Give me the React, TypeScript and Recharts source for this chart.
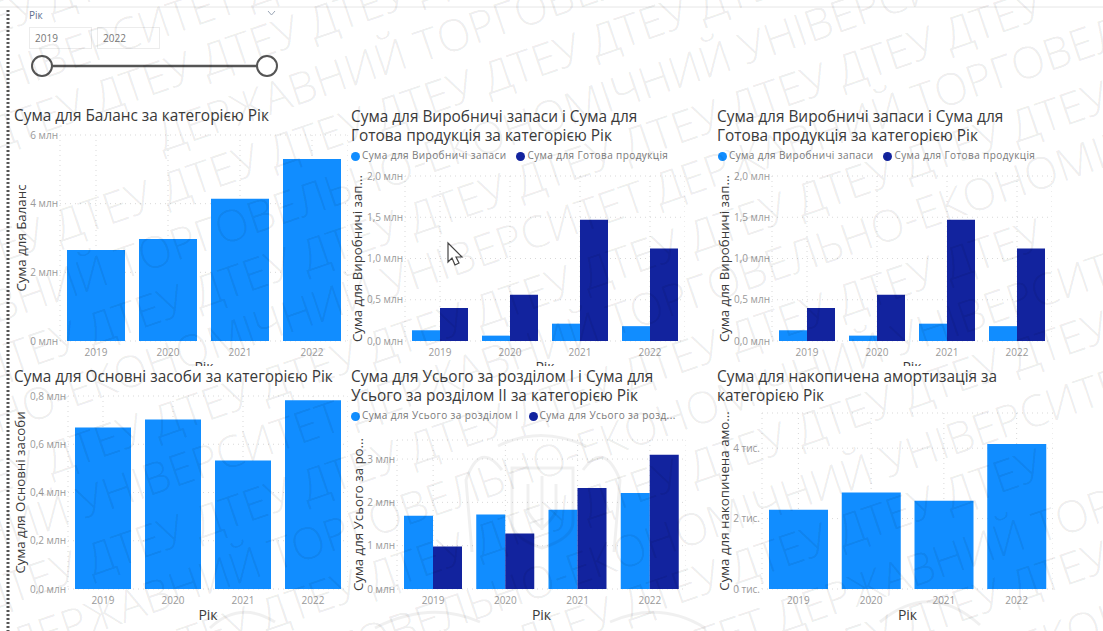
import React from 'react';
import { BarChart, Bar, XAxis, YAxis, CartesianGrid, Legend } from 'recharts';

const BLUE = '#118DFF';
const NAVY = '#12239E';
const TICK = '#9a9a9a';
const INK = '#3a3a3a';
const FONT = '"Open Sans", "Noto Sans", sans-serif';

const years = ['2019', '2020', '2021', '2022'];

// values in millions unless noted
const balance = [2.65, 2.97, 4.14, 5.3];
const inventories = [0.13, 0.065, 0.21, 0.18];
const finishedGoods = [0.4, 0.56, 1.47, 1.12];
const fixedAssets = [0.669, 0.703, 0.533, 0.782];
const sectionOne = [1.69, 1.72, 1.83, 2.215];
const sectionTwo = [0.98, 1.28, 2.33, 3.1];
const depreciation = [2.25, 2.74, 2.51, 4.12]; // thousands

const balanceTicks = [0, 2, 4, 6];
const stockTicks = [0, 0.5, 1, 1.5, 2];
const assetTicks = [0, 0.2, 0.4, 0.6, 0.8];
const sectionTicks = [0, 1, 2, 3];
const depreciationTicks = [0, 2, 4];

// watermark rows: [height at the left edge, where the text starts]
const UNIVERSITY = 'ДЕРЖАВНИЙ ТОРГОВЕЛЬНО-ЕКОНОМІЧНИЙ УНІВЕРСИТЕТ ';
const ACRONYM = 'ДТЕУ ';
const nameRows = [
  [76, -960],
  [190, 166],
  [304, -150],
  [415, -528],
  [530, -850],
  [648, -1208],
  [766, 0],
  [884, -400],
  [1000, -740],
];
const acronymRows = [
  [15, 100],
  [130, 38],
  [245, 109],
  [360, 30],
  [475, 100],
  [590, 30],
  [705, 100],
  [820, 30],
  [935, 100],
];

const table = (a: number[], b?: number[]) =>
  years.map((year, i) => ({ year, a: a[i], b: b ? b[i] : undefined }));

const oneDecimal = (v: number) => `${v.toFixed(1).replace('.', ',')} млн`;
const whole = (v: number) => `${v} млн`;
const thousands = (v: number) => `${v} тис.`;

type PanelProps = {
  left: number;
  top: number;
  width: number;
  height: number;
  clip: number;
  axisWidth: number;
  marginTop: number;
  titleOffset: number;
  data: any[];
  ticks: number[];
  domainMax: number;
  format: (v: number) => string;
  yTitle: string;
  names?: string[];
};

const Panel = ({ left, top, width, height, clip, axisWidth, marginTop, titleOffset, data, ticks, domainMax, format, yTitle, names }: PanelProps) => (
  <div style={{ position: 'absolute', left, top, width, height: clip, overflow: 'hidden' }}>
    <BarChart
      width={width}
      height={height}
      data={data}
      barGap={0}
      barCategoryGap={7}
      margin={{ top: marginTop, right: 0, bottom: 0, left: 0 }}
    >
      <CartesianGrid stroke="#d9d9d9" strokeDasharray="1 4" />
      {names && (
        <Legend
          verticalAlign="top"
          align="left"
          iconType="circle"
          iconSize={9}
          itemSorter={null}
          wrapperStyle={{ left: 6, top: 0, fontFamily: FONT, fontSize: 10, lineHeight: '14px', letterSpacing: 0.4, whiteSpace: 'nowrap' }}
          formatter={(value: string) => <span style={{ color: '#7a7a7a', marginLeft: -2 }}>{value}</span>}
        />
      )}
      <XAxis
        dataKey="year"
        height={34}
        axisLine={false}
        tickLine={false}
        tickSize={0}
        tickMargin={8}
        tick={{ fontSize: 10, fill: TICK, fontFamily: FONT }}
        label={{ value: 'Рік', position: 'insideBottom', offset: 3, fontSize: 14, fill: INK, fontFamily: FONT }}
      />
      <YAxis
        width={axisWidth}
        domain={[0, domainMax]}
        ticks={ticks}
        interval={0}
        axisLine={false}
        tickLine={false}
        tickSize={0}
        tickMargin={2}
        tickFormatter={format}
        tick={{ fontSize: 10, fill: TICK, fontFamily: FONT }}
        label={{
          value: yTitle,
          angle: -90,
          position: 'insideLeft',
          offset: titleOffset,
          fontSize: 13.3,
          fill: INK,
          fontFamily: FONT,
          style: { textAnchor: 'middle' },
        }}
      />
      <Bar dataKey="a" name={names ? names[0] : 'a'} fill={BLUE} isAnimationActive={false} />
      {names && <Bar dataKey="b" name={names[1]} fill={NAVY} isAnimationActive={false} />}
    </BarChart>
  </div>
);

const Title = ({ x, y, lines }: { x: number; y: number; lines: string[] }) => (
  <div
    style={{
      position: 'absolute',
      left: x,
      top: y,
      fontFamily: FONT,
      fontSize: 15.4,
      lineHeight: '19px',
      color: '#3a3a3a',
      whiteSpace: 'nowrap',
    }}
  >
    {lines.map((line) => (
      <div key={line}>{line}</div>
    ))}
  </div>
);

// year range slicer in the top left corner
const Slicer = () => (
  <>
    <div style={{ position: 'absolute', left: 29, top: 8, fontFamily: FONT, fontSize: 10, color: '#5f6f8f' }}>Рік</div>
    {['2019', '2022'].map((label, i) => (
      <div
        key={label}
        style={{
          position: 'absolute',
          left: 29 + i * 68,
          top: 27,
          width: 63,
          height: 22,
          boxSizing: 'border-box',
          border: '1px solid #ececec',
          padding: '0 0 0 5px',
          fontFamily: FONT,
          fontSize: 10,
          lineHeight: '20px',
          color: '#777',
        }}
      >
        {label}
      </div>
    ))}
    <svg width={1103} height={100} style={{ position: 'absolute', left: 0, top: 0 }}>
      <line x1={0} y1={7} x2={1103} y2={7} stroke="#e6e6e6" />
      <path d="M268 11 L271.5 15 L275 11" fill="none" stroke="#9aa5b5" />
      <line x1={42} y1={66} x2={267} y2={66} stroke="#555" strokeWidth={2.5} />
      <circle cx={42} cy={66} r={10} fill="#fff" stroke="#555" strokeWidth={2} />
      <circle cx={267} cy={66} r={10} fill="#fff" stroke="#555" strokeWidth={2} />
    </svg>
  </>
);

// university watermark and emblem laid over the whole report page
const Watermark = () => (
  <svg width={1103} height={631} style={{ position: 'absolute', left: 0, top: 0, pointerEvents: 'none' }}>
    <line x1={8} y1={10} x2={8} y2={631} stroke="#555" strokeWidth={3} strokeDasharray="2 2" />
    <g fontFamily={FONT} fontSize={44} fontWeight={300} fill="#000" fillOpacity={0.08} dominantBaseline="central">
      {nameRows.map(([offset, start]) => (
        <text key={offset} transform={`translate(0 ${offset}) rotate(-19)`} x={start}>
          {UNIVERSITY.repeat(3)}
        </text>
      ))}
      {acronymRows.map(([offset, start]) => (
        <text key={offset} transform={`translate(0 ${offset}) rotate(-19)`} x={start - 165}>
          {ACRONYM.repeat(11)}
        </text>
      ))}
    </g>
    <g fill="none" stroke="#000" strokeOpacity={0.06} strokeWidth={3}>
      <path d="M512 468 L573 468 L573 522 Q573 538 542 548 Q512 538 512 522 Z" />
      <path d="M528 484 L528 512 Q534 522 542 528 Q550 522 556 512 L556 484 M542 476 L542 530" />
      <path d="M502 470 Q480 440 466 480 L472 552 M583 470 Q604 440 620 480 L614 552" />
      <path d="M498 446 Q540 425 586 446" />
      <path d="M375 628 Q430 600 480 622 M610 622 Q660 600 705 628 M210 628 Q240 600 275 622 M880 622 Q930 580 980 625" />
    </g>
    <path
      d="M448 243 L448 262 L452 258 L455 265 L459 263 L456 257 L462 257 Z"
      fill="#fff"
      stroke="#444"
      strokeWidth={1.2}
    />
  </svg>
);

export default function App() {
  return (
    <div style={{ position: 'absolute', left: 0, top: 0, width: 1103, height: 631, overflow: 'hidden', background: '#fff' }}>
      <Slicer />

      <Title x={14} y={106} lines={['Сума для Баланс за категорією Рік']} />
      <Panel left={8} top={130} width={340} height={245} clip={236} axisWidth={52} marginTop={5} titleOffset={13}
        data={table(balance)} ticks={balanceTicks} domainMax={6} format={whole} yTitle="Сума для Баланс" />

      <Title x={351} y={107} lines={['Сума для Виробничі запаси і Сума для', 'Готова продукція за категорією Рік']} />
      <Panel left={345} top={148} width={340} height={227} clip={218} axisWidth={60} marginTop={14} titleOffset={12}
        data={table(inventories, finishedGoods)} ticks={stockTicks} domainMax={2} format={oneDecimal}
        yTitle="Сума для Виробничі зап..." names={['Сума для Виробничі запаси', 'Сума для Готова продукція']} />

      <Title x={717} y={107} lines={['Сума для Виробничі запаси і Сума для', 'Готова продукція за категорією Рік']} />
      <Panel left={712} top={148} width={340} height={227} clip={218} axisWidth={60} marginTop={14} titleOffset={12}
        data={table(inventories, finishedGoods)} ticks={stockTicks} domainMax={2} format={oneDecimal}
        yTitle="Сума для Виробничі зап..." names={['Сума для Виробничі запаси', 'Сума для Готова продукція']} />

      <Title x={14} y={367} lines={['Сума для Основні засоби за категорією Рік']} />
      <Panel left={8} top={391} width={340} height={232} clip={240} axisWidth={60} marginTop={5} titleOffset={12}
        data={table(fixedAssets)} ticks={assetTicks} domainMax={0.8} format={oneDecimal}
        yTitle="Сума для Основні засоби" />

      <Title x={351} y={367} lines={['Сума для Усього за розділом І і Сума для', 'Усього за розділом ІІ за категорією Рік']} />
      <Panel left={345} top={408} width={341} height={215} clip={223} axisWidth={52} marginTop={18} titleOffset={13}
        data={table(sectionOne, sectionTwo)} ticks={sectionTicks} domainMax={3.44} format={whole}
        yTitle="Сума для Усього за ро..." names={['Сума для Усього за розділом І', 'Сума для Усього за розд...']} />

      <Title x={717} y={367} lines={['Сума для накопичена амортизація за', 'категорією Рік']} />
      <Panel left={712} top={408} width={341} height={215} clip={223} axisWidth={50} marginTop={5} titleOffset={12}
        data={table(depreciation)} ticks={depreciationTicks} domainMax={5} format={thousands}
        yTitle="Сума для накопичена амо..." />

      <Watermark />
    </div>
  );
}
